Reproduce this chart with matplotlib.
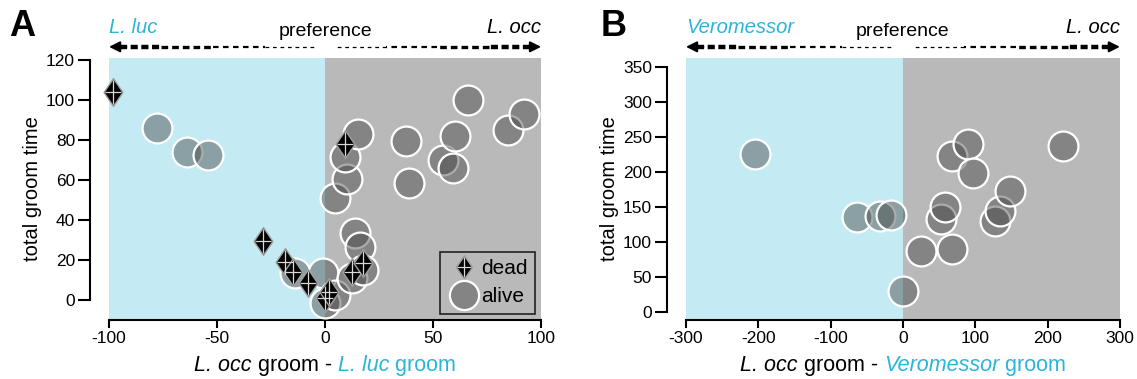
import numpy as np
import matplotlib
matplotlib.use("Agg")
import matplotlib.pyplot as plt
from matplotlib.path import Path
from matplotlib.lines import Line2D
from matplotlib.offsetbox import TextArea, HPacker, AnnotationBbox

plt.rcParams["font.family"] = ["Liberation Sans", "DejaVu Sans"]

CYAN = "#2bb5da"
BLUE_BG = "#c4ebf3"
GRAY_BG = "#b9b9b9"
CIRCLE_FC = (0.27, 0.27, 0.27, 0.45)

# panel A: L. occ groom - L. luc groom vs total groom time
a_alive_x = [-78, -64, -54, -14, -1, 0, 4.5, 4.6, 10, 9.3, 15.3, 14, 16, 12.5, 17.5,
             37.5, 39, 54.6, 59, 60, 66, 84.7, 92]
a_alive_y = [86, 74, 72.5, 13.5, 13.5, -1.5, 2.5, 51, 60.5, 71.5, 83, 33.5, 26.5, 11, 15,
             79.5, 58.5, 70, 66, 82, 100, 85, 93]
a_dead_x = [-98, 9, -28.5, -18.5, -15, -8, 0, 2, 12.5, 17.5]
a_dead_y = [104, 78, 29.5, 19, 14, 8.5, 1, 4, 14, 18.5]

# panel B: L. occ groom - Veromessor groom vs total groom time
b_alive_x = [-205, -64, -32, -17, 0, 25, 68, 52.5, 58, 68, 90, 97, 127, 134, 148, 221]
b_alive_y = [226, 136, 137, 139, 30, 87, 90, 133, 151, 223, 241, 199, 130, 144, 173, 237]

a_xticks = [-100, -50, 0, 50, 100]
a_yticks = [0, 20, 40, 60, 80, 100, 120]
b_xticks = [-300, -200, -100, 0, 100, 200, 300]
b_yticks = [0, 50, 100, 150, 200, 250, 300, 350]

diamond = Path([(0, 1), (0.68, 0), (0, -1), (-0.68, 0), (0, 1)],
               [Path.MOVETO, Path.LINETO, Path.LINETO, Path.LINETO, Path.CLOSEPOLY])
cross = Path([(0, 1), (0, -1), (-0.68, 0), (0.68, 0)],
             [Path.MOVETO, Path.LINETO, Path.MOVETO, Path.LINETO])

fig = plt.figure(figsize=(11.37, 3.79), dpi=100)
axA = fig.add_axes([0.0959, 0.1557, 0.380, 0.691])
axB = fig.add_axes([0.6033, 0.1557, 0.3817, 0.691])


def draw_circles(ax, x, y):
    ax.plot(x, y, "o", ms=21.5, mfc=CIRCLE_FC, mec="white", mew=1.6, ls="none", zorder=3)


def draw_dead(ax, x, y, ms=20):
    ax.plot(x, y, marker=diamond, ms=ms, mfc="black", mec="#a0a0a0", mew=1.0, ls="none", zorder=4)
    ax.plot(x, y, marker=cross, ms=ms * 0.85, mfc="none", mec="#d8d8d8", mew=0.9, ls="none", zorder=5)


def style(ax, xlim, ylim, xticks, yticks, left_name, xlabel_parts):
    ax.set_xlim(*xlim)
    ax.set_ylim(*ylim)
    ax.axvspan(xlim[0], 0, color=BLUE_BG, zorder=0, lw=0)
    ax.axvspan(0, xlim[1], color=GRAY_BG, zorder=0, lw=0)
    ax.set_xticks(xticks)
    ax.set_yticks(yticks)
    ax.set_xticklabels([str(t) for t in xticks])
    ax.spines["top"].set_visible(False)
    ax.spines["right"].set_visible(False)
    ax.spines["left"].set_position(("outward", 14))
    ax.spines["left"].set_bounds(yticks[0], yticks[-1])
    ax.spines["bottom"].set_bounds(xticks[0], xticks[-1])
    for s in ["left", "bottom"]:
        ax.spines[s].set_linewidth(1.5)
    ax.tick_params(labelsize=12.5, width=1.5, length=6, pad=2)
    ax.tick_params(axis="y", length=9, pad=1.5)
    ax.set_ylabel("total groom time", fontsize=14.5, labelpad=3)

    # top labels and preference arrow
    ax.text(0, 1.118, left_name, transform=ax.transAxes, color=CYAN, style="italic",
            fontsize=14.5, ha="left", va="center")
    ax.text(1, 1.118, "L. occ", transform=ax.transAxes, color="black", style="italic",
            fontsize=14.5, ha="right", va="center")
    ax.text(0.5, 1.1, "preference", transform=ax.transAxes, fontsize=14,
            ha="center", va="center")
    ya = 1.043
    segs = [(0.025, 0.12, 3.2, (0, (1.6, 0.8))), (0.12, 0.24, 2.4, (0, (2, 1.2))),
            (0.24, 0.36, 1.6, (0, (2.5, 2))), (0.36, 0.48, 0.9, (0, (3, 3)))]
    for x0, x1, lw, ls in segs:
        ax.plot([x0, x1], [ya, ya], transform=ax.transAxes, color="black", lw=lw,
                ls=ls, clip_on=False, solid_capstyle="butt")
        ax.plot([1 - x0, 1 - x1], [ya, ya], transform=ax.transAxes, color="black", lw=lw,
                ls=ls, clip_on=False, solid_capstyle="butt")
    for xe, xs in [(0, 0.04), (1, 0.96)]:
        ax.annotate("", xy=(xe, ya), xytext=(xs, ya), xycoords="axes fraction",
                    arrowprops=dict(arrowstyle="-|>", color="black", lw=1.5,
                                    mutation_scale=16, shrinkA=0, shrinkB=0))

    # multicolour x label
    areas = [TextArea(t, textprops=dict(fontsize=15.5, color=c, style=st)) for t, c, st in xlabel_parts]
    box = HPacker(children=areas, align="baseline", pad=0, sep=0)
    ab = AnnotationBbox(box, (0.5, -0.172), xycoords="axes fraction", frameon=False,
                        box_alignment=(0.5, 0.5), annotation_clip=False)
    ax.add_artist(ab)


style(axA, (-100, 100), (-10, 121), a_xticks, a_yticks, "L. luc",
      [("L. occ", "black", "italic"), (" groom - ", "black", "normal"),
       ("L. luc", CYAN, "italic"), (" groom", CYAN, "normal")])
style(axB, (-300, 300), (-11, 363), b_xticks, b_yticks, "Veromessor",
      [("L. occ", "black", "italic"), (" groom - ", "black", "normal"),
       ("Veromessor", CYAN, "italic"), (" groom", CYAN, "normal")])

draw_circles(axA, a_alive_x, a_alive_y)
draw_dead(axA, a_dead_x, a_dead_y)
draw_circles(axB, b_alive_x, b_alive_y)

for ax in (axA, axB):
    for a in ax.get_children():
        if isinstance(a, Line2D):
            a.set_clip_on(False)

handles = [
    (Line2D([], [], marker=diamond, ms=17, mfc="black", mec="#a0a0a0", mew=1.0, ls="none"),
     Line2D([], [], marker=cross, ms=14.5, mfc="none", mec="#d8d8d8", mew=0.9, ls="none")),
    Line2D([], [], marker="o", ms=21, mfc=CIRCLE_FC, mec="white", mew=1.6, ls="none"),
]
leg = axA.legend(handles, ["dead", "alive"], loc="lower right", fontsize=15,
                 frameon=True, fancybox=False, framealpha=1, facecolor=GRAY_BG,
                 edgecolor="#222222", handletextpad=0.0, borderpad=0.35,
                 labelspacing=0.45, handlelength=1.6, borderaxespad=0.3)
leg.get_frame().set_linewidth(1.2)

fig.text(0.008, 0.93, "A", fontsize=26, fontweight="bold", va="center", ha="left")
fig.text(0.528, 0.93, "B", fontsize=26, fontweight="bold", va="center", ha="left")

fig.savefig("out.png", dpi=100)
